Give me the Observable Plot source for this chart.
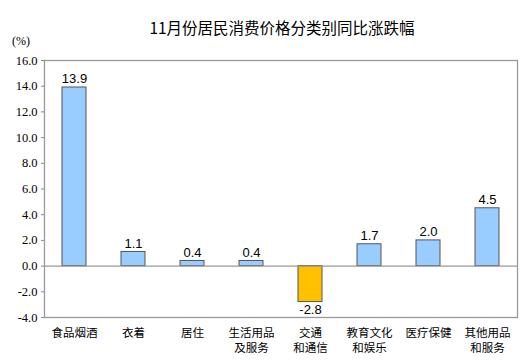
<!DOCTYPE html>
<html><head><meta charset="utf-8">
<script src="https://cdn.jsdelivr.net/npm/d3@7"></script>
<script src="https://cdn.jsdelivr.net/npm/@observablehq/plot@0.6"></script>
<style>
body{margin:0;background:#fff;}
#wrap{position:relative;width:523px;height:362px;}
#title{position:absolute;left:0;width:564px;top:16px;text-align:center;font:15.5px "Noto Sans CJK SC",sans-serif;color:#000;}
#unit{position:absolute;left:12px;top:34px;font:12px "Liberation Serif",serif;color:#000;}
</style></head><body>
<div id="wrap"><div id="title">11月份居民消费价格分类别同比涨跌幅</div><div id="unit">(%)</div><div id="chart"></div></div>
<script>
const categories = ["食品烟酒","衣着","居住","生活用品及服务","交通和通信","教育文化和娱乐","医疗保健","其他用品和服务"];
const tickLabels = ["食品烟酒","衣着","居住","生活用品\n及服务","交通\n和通信","教育文化\n和娱乐","医疗保健","其他用品\n和服务"];
const values = [13.9, 1.1, 0.4, 0.4, -2.8, 1.7, 2.0, 4.5];
const yTicks = [-4, -2, 0, 2, 4, 6, 8, 10, 12, 14, 16];

const data = categories.map((c, i) => ({cat: c, v: values[i]}));
const labelOf = new Map(categories.map((c, i) => [c, tickLabels[i]]));

const chart = Plot.plot({
  width: 523, height: 362,
  marginTop: 60, marginBottom: 45, marginLeft: 44, marginRight: 6,
  style: {background: "#fff", overflow: "visible"},
  x: {domain: categories, paddingInner: 0.59, paddingOuter: 0.295, label: null},
  y: {domain: [-4, 16], label: null},
  marks: [
    Plot.axisY({ticks: yTicks, tickFormat: d => d.toFixed(1), tickSize: 3, tickPadding: 4, stroke: "#888",
      fontSize: 12.5, fontFamily: "Liberation Serif, serif", fill: "#000"}),
    Plot.axisX({tickSize: 0, tickPadding: 9, tickFormat: d => labelOf.get(d), fontSize: 11.5, lineHeight: 1.3,
      fontFamily: "Noto Sans CJK SC, sans-serif", fill: "#000"}),
    Plot.barY(data, {x: "cat", y: "v", fill: d => d.v < 0 ? "#FFC000" : "#99CCFF", stroke: "#555", strokeWidth: 1}),
    Plot.ruleY([0], {stroke: "#999", strokeWidth: 1.3}),
    Plot.frame({stroke: "#999", strokeWidth: 1.3}),
    Plot.text(data, {x: "cat", y: "v", text: d => d.v.toFixed(1),
      fontSize: 13, fontFamily: "Liberation Sans, Arial, sans-serif", fill: "#000",
      lineAnchor: "bottom", filter: d => d.v >= 0, dy: -4}),
    Plot.text(data, {x: "cat", y: "v", text: d => d.v.toFixed(1),
      fontSize: 13, fontFamily: "Liberation Sans, Arial, sans-serif", fill: "#000",
      lineAnchor: "top", filter: d => d.v < 0, dy: 3})
  ]
});
document.getElementById("chart").appendChild(chart);
</script>
</body></html>
